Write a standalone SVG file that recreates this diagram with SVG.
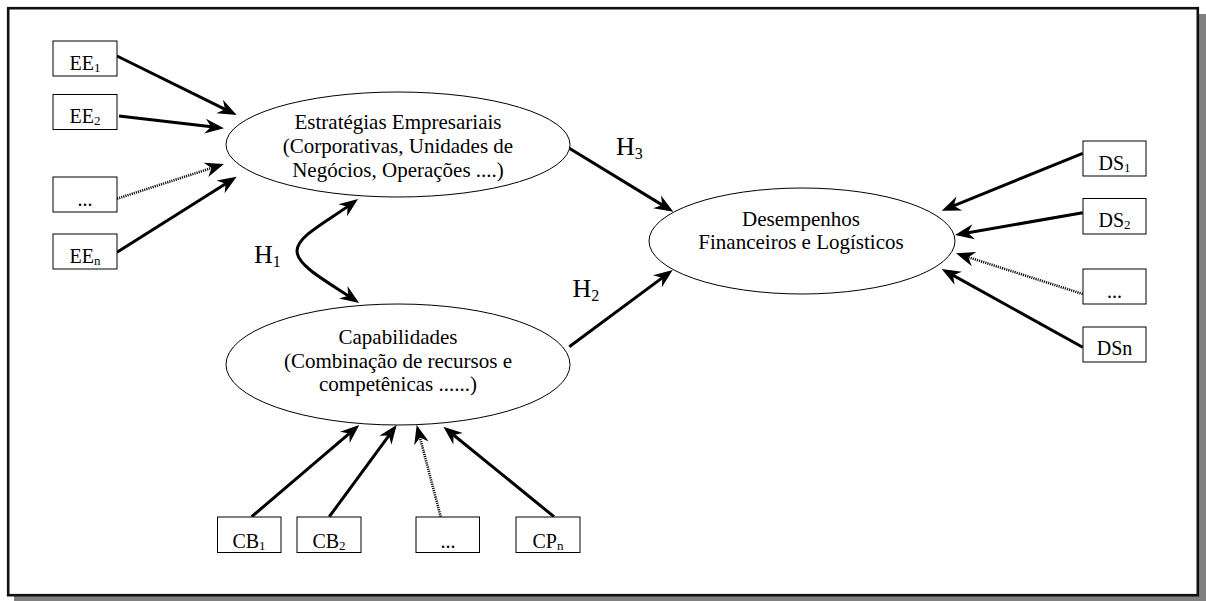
<svg xmlns="http://www.w3.org/2000/svg" width="1206" height="601" viewBox="0 0 1206 601">
  <style>
    text { font-family: "Liberation Serif", "Times New Roman", serif; fill: #000; }
    .lbl { font-size: 21px; text-anchor: middle; }
    .box-t { font-size: 20px; text-anchor: middle; }
    .sub { font-size: 13px; }
    .h { font-size: 26px; }
    .hsub { font-size: 16px; }
    .box { fill: #fff; stroke: #000; stroke-width: 1; }
    .ell { fill: #fff; stroke: #000; stroke-width: 1; }
    .link { fill: none; stroke: #000; stroke-width: 3; marker-end: url(#ah); }
    .dot { fill: none; stroke: #111; stroke-width: 2.6; stroke-dasharray: 1.2 1; marker-end: url(#ah); }
  </style>
  <defs>
    <marker id="ah" markerUnits="userSpaceOnUse" markerWidth="22" markerHeight="18" viewBox="-19 -9 22 18" refX="-6" refY="0" orient="auto-start-reverse" overflow="visible">
      <path d="M0,0 L-19,-7.5 L-13,0 L-19,7.5 Z" fill="#000"/>
    </marker>
  </defs>

  <!-- page frame with drop shadow -->
  <rect x="14" y="14" width="1192" height="587" fill="#808080"/>
  <rect x="8.2" y="8.2" width="1189.6" height="587" fill="#fff" stroke="#111" stroke-width="2.6"/>

  <!-- connectors -->
  <g id="connectors">
    <line class="link" x1="117" y1="56" x2="231.3" y2="112.3"/>
    <line class="link" x1="119" y1="116" x2="218" y2="127.6"/>
    <line class="dot" x1="117" y1="198.7" x2="218.3" y2="165.8"/>
    <line class="link" x1="117" y1="252.3" x2="231.6" y2="179.9"/>

    <path class="link" style="marker-start: url(#ah)" d="M353.2,202.6 C328,221 297,236 297,251 C297,266 328,282 354.1,299.6"/>

    <line class="link" x1="569.3" y1="148.3" x2="668.2" y2="208.6"/>
    <line class="link" x1="569.3" y1="346.7" x2="667.9" y2="273.6"/>

    <line class="link" x1="1082.7" y1="153.3" x2="947.3" y2="208.4"/>
    <line class="link" x1="1082.7" y1="212.7" x2="960.9" y2="234"/>
    <line class="dot" x1="1082.7" y1="294" x2="961.7" y2="255.1"/>
    <line class="link" x1="1082.7" y1="347.3" x2="946.9" y2="271.9"/>

    <line class="link" x1="251.7" y1="516.7" x2="354.7" y2="428.9"/>
    <line class="link" x1="329.3" y1="516.7" x2="393.1" y2="429.8"/>
    <line class="dot" x1="440.7" y1="516.7" x2="418.2" y2="430.8"/>
    <line class="link" x1="554" y1="516.7" x2="448" y2="430.5"/>
  </g>

  <!-- hypothesis labels -->
  <g id="hypotheses">
    <text class="h" x="254" y="263">H<tspan class="hsub" dy="4">1</tspan></text>
    <text class="h" x="616" y="154.5">H<tspan class="hsub" dy="4">3</tspan></text>
    <text class="h" x="572.5" y="297">H<tspan class="hsub" dy="4">2</tspan></text>
  </g>

  <!-- central constructs -->
  <g id="estrategias">
    <ellipse class="ell" cx="398" cy="144.5" rx="172" ry="52.5"/>
    <text class="lbl" x="398" y="129">Estratégias Empresariais</text>
    <text class="lbl" x="398" y="153">(Corporativas, Unidades de</text>
    <text class="lbl" x="398" y="177">Negócios, Operações ....)</text>
  </g>
  <g id="capabilidades">
    <ellipse class="ell" cx="398" cy="364.5" rx="172" ry="60.5"/>
    <text class="lbl" x="398" y="344">Capabilidades</text>
    <text class="lbl" x="398" y="367.5">(Combinação de recursos e</text>
    <text class="lbl" x="398" y="391">competênicas ......)</text>
  </g>
  <g id="desempenhos">
    <ellipse class="ell" cx="802" cy="241" rx="153" ry="53"/>
    <text class="lbl" x="801" y="226">Desempenhos</text>
    <text class="lbl" x="801" y="249">Financeiros e Logísticos</text>
  </g>

  <!-- strategy indicators -->
  <g id="ee1"><rect class="box" x="53" y="41" width="64" height="35"/><text class="box-t" x="85" y="70">EE<tspan class="sub" dy="2">1</tspan></text></g>
  <g id="ee2"><rect class="box" x="53" y="94.5" width="64" height="35"/><text class="box-t" x="85" y="123">EE<tspan class="sub" dy="2">2</tspan></text></g>
  <g id="ee-more"><rect class="box" x="53" y="177" width="64" height="35"/><text class="box-t" x="85" y="206">...</text></g>
  <g id="een"><rect class="box" x="53" y="234" width="64" height="35"/><text class="box-t" x="85" y="263">EE<tspan class="sub" dy="2">n</tspan></text></g>

  <!-- performance indicators -->
  <g id="ds1"><rect class="box" x="1083" y="141" width="63" height="35"/><text class="box-t" x="1114.5" y="170">DS<tspan class="sub" dy="2">1</tspan></text></g>
  <g id="ds2"><rect class="box" x="1083" y="198.5" width="63" height="35.5"/><text class="box-t" x="1114.5" y="227">DS<tspan class="sub" dy="2">2</tspan></text></g>
  <g id="ds-more"><rect class="box" x="1083" y="269" width="63" height="35"/><text class="box-t" x="1114.5" y="298">...</text></g>
  <g id="dsn"><rect class="box" x="1083" y="327" width="63" height="35"/><text class="box-t" x="1114.5" y="355">DSn</text></g>

  <!-- capability indicators -->
  <g id="cb1"><rect class="box" x="217.5" y="517" width="63.5" height="35.5"/><text class="box-t" x="249" y="548">CB<tspan class="sub" dy="2">1</tspan></text></g>
  <g id="cb2"><rect class="box" x="297" y="517" width="64" height="35.5"/><text class="box-t" x="329" y="548">CB<tspan class="sub" dy="2">2</tspan></text></g>
  <g id="cb-more"><rect class="box" x="416" y="517" width="63.5" height="35.5"/><text class="box-t" x="448" y="548">...</text></g>
  <g id="cpn"><rect class="box" x="516" y="517" width="64" height="35.5"/><text class="box-t" x="548" y="548">CP<tspan class="sub" dy="2">n</tspan></text></g>
</svg>
